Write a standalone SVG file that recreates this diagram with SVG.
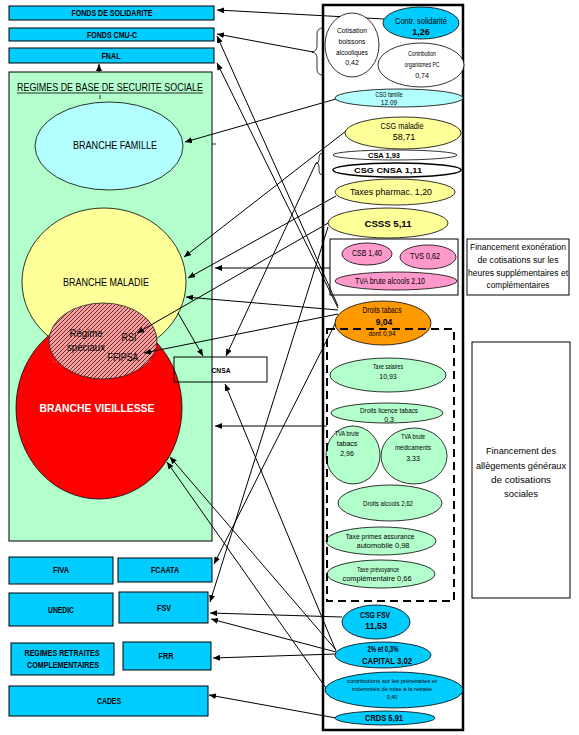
<svg xmlns="http://www.w3.org/2000/svg" width="579" height="735" viewBox="0 0 579 735">
<defs>
<style>
text{font-family:"Liberation Sans",Arial,sans-serif;fill:#000}
.c{text-anchor:middle}
.b{font-weight:bold}
.box{fill:#00ccff;stroke:#000;stroke-width:1}
.e{stroke:#000;stroke-width:0.8}
.blue{fill:#00ccff}
.yel{fill:#ffff99}
.grn{fill:#b3ffcc}
.pink{fill:#ff99cc}
.wht{fill:#fff}
.cyan{fill:#b3ffff}
.conn line{stroke:#000;stroke-width:1;marker-end:url(#ah)}
.bl{font-size:8.5px;font-weight:bold}
</style>
<marker id="ah" markerWidth="7" markerHeight="6" refX="7" refY="3" orient="auto" markerUnits="userSpaceOnUse"><path d="M0,0 L7,3 L0,6 z" fill="#000"/></marker>
<pattern id="hatch" patternUnits="userSpaceOnUse" width="4" height="4"><rect width="4" height="4" fill="#f2a2a2"/><path d="M-1,1 l2,-2 M0,4 l4,-4 M3,5 l2,-2" stroke="#701515" stroke-width="0.9"/></pattern>
</defs>
<rect width="579" height="735" fill="#fff"/>

<!-- top left funds -->
<g id="fonds-solidarite"><rect class="box" x="9" y="6" width="205" height="14"/><text class="c bl" x="112" y="16" textLength="81" lengthAdjust="spacingAndGlyphs">FONDS DE SOLIDARITE</text></g>
<g id="fonds-cmuc"><rect class="box" x="9" y="28" width="205" height="13"/><text class="c bl" x="112" y="38" textLength="50" lengthAdjust="spacingAndGlyphs">FONDS CMU-C</text></g>
<g id="fnal"><rect class="box" x="9" y="48" width="205" height="15"/><text class="c bl" x="111" y="59" textLength="19" lengthAdjust="spacingAndGlyphs">FNAL</text></g>

<!-- regimes de base -->
<g id="regimes-base">
<rect x="9" y="72" width="203" height="469" fill="#b3ffcc" stroke="#000" stroke-width="1"/>
<text class="c" x="110" y="91" font-size="10" textLength="186" lengthAdjust="spacingAndGlyphs">REGIMES DE BASE DE SECURITE SOCIALE</text>
<line x1="17" y1="93" x2="203" y2="93" stroke="#000" stroke-width="0.8"/>
<line x1="100" y1="95" x2="100" y2="99" stroke="#000" stroke-width="0.8"/>
<line x1="212" y1="144" x2="216" y2="144" stroke="#000" stroke-width="0.8"/>
</g>
<g id="branche-famille"><ellipse class="e cyan" cx="109" cy="146" rx="74" ry="44"/><text class="c" x="115" y="149" font-size="10.5" textLength="84" lengthAdjust="spacingAndGlyphs">BRANCHE FAMILLE</text></g>
<g id="branche-maladie"><ellipse class="e yel" cx="104" cy="282" rx="82" ry="74"/><text class="c" x="106" y="286" font-size="10.5" textLength="86" lengthAdjust="spacingAndGlyphs">BRANCHE MALADIE</text></g>
<g id="branche-vieillesse"><ellipse cx="99" cy="408" rx="83" ry="91" fill="#ff0000" stroke="#000" stroke-width="0.8"/><text class="c b" x="97" y="412" font-size="11" style="fill:#fff" textLength="115" lengthAdjust="spacingAndGlyphs">BRANCHE VIEILLESSE</text></g>
<g id="regimes-speciaux">
<ellipse cx="103" cy="341" rx="54" ry="38" fill="url(#hatch)" stroke="#222" stroke-width="0.8"/>
<g stroke="#e08080" stroke-width="0.8" stroke-dasharray="1.5,1.5" fill="none">
<line x1="56" y1="329" x2="152" y2="329"/><line x1="53" y1="362" x2="152" y2="362"/><line x1="106" y1="304" x2="106" y2="378"/>
</g>
<text class="c" x="86" y="337" font-size="10" fill="#111" textLength="33" lengthAdjust="spacingAndGlyphs">Régime</text>
<text class="c" x="86" y="351" font-size="10" textLength="38" lengthAdjust="spacingAndGlyphs">spéciaux</text>
<text class="c" x="129" y="341" font-size="10" textLength="15" lengthAdjust="spacingAndGlyphs">RSI</text>
<text class="c" x="123" y="361" font-size="10" textLength="31" lengthAdjust="spacingAndGlyphs">FFIPSA</text>
</g>
<g id="cnsa"><rect x="174" y="357" width="93" height="25" fill="none" stroke="#000" stroke-width="1"/><text class="c b" x="221" y="373" font-size="8" textLength="19" lengthAdjust="spacingAndGlyphs">CNSA</text></g>

<!-- bottom left funds -->
<g id="fiva"><rect class="box" x="9" y="557" width="104" height="27"/><text class="c bl" x="61" y="573" textLength="16" lengthAdjust="spacingAndGlyphs">FIVA</text></g>
<g id="fcaata"><rect class="box" x="118" y="558" width="94" height="24"/><text class="c bl" x="165" y="573" textLength="28" lengthAdjust="spacingAndGlyphs">FCAATA</text></g>
<g id="unedic"><rect class="box" x="9" y="593" width="104" height="33"/><text class="c bl" x="61" y="613" textLength="26" lengthAdjust="spacingAndGlyphs">UNEDIC</text></g>
<g id="fsv"><rect class="box" x="119" y="592" width="89" height="31"/><text class="c bl" x="164" y="611" textLength="14" lengthAdjust="spacingAndGlyphs">FSV</text></g>
<g id="regimes-complementaires"><rect class="box" x="11" y="643" width="103" height="32"/><text class="c bl" x="62" y="656" textLength="75" lengthAdjust="spacingAndGlyphs">REGIMES RETRAITES</text><text class="c bl" x="63" y="668" textLength="72" lengthAdjust="spacingAndGlyphs">COMPLEMENTAIRES</text></g>
<g id="frr"><rect class="box" x="123" y="642" width="88" height="28"/><text class="c bl" x="166" y="659" textLength="15" lengthAdjust="spacingAndGlyphs">FRR</text></g>
<g id="cades"><rect class="box" x="9" y="686" width="199" height="30"/><text class="c bl" x="109" y="704" textLength="24" lengthAdjust="spacingAndGlyphs">CADES</text></g>

<!-- connectors -->
<g id="connectors" class="conn">
<line x1="384" y1="19" x2="217" y2="10"/>
<line x1="313" y1="52" x2="217" y2="34"/>
<line x1="336" y1="99" x2="185" y2="142"/>
<line x1="346" y1="131" x2="184" y2="257"/>
<line x1="336" y1="196" x2="188" y2="278"/>
<line x1="330" y1="222" x2="137" y2="333"/>
<line x1="328" y1="227" x2="210" y2="602"/>
<line x1="330" y1="268" x2="215" y2="268"/>
<line x1="338" y1="310" x2="186" y2="297"/>
<line x1="338" y1="314" x2="144" y2="353"/>
<line x1="338" y1="306" x2="217" y2="36"/>
<line x1="338" y1="308" x2="217" y2="63"/>
<line x1="336" y1="322" x2="214" y2="564"/>
<line x1="316" y1="163" x2="226" y2="356"/>
<line x1="178" y1="313" x2="203" y2="356"/>
<line x1="327" y1="426" x2="215" y2="426"/>
<line x1="336" y1="651" x2="225" y2="384"/>
<line x1="336" y1="650" x2="170" y2="457"/>
<line x1="326" y1="688" x2="167" y2="462"/>
<line x1="342" y1="617" x2="210" y2="613"/>
<line x1="336" y1="652" x2="211" y2="619"/>
<line x1="336" y1="654" x2="213" y2="658"/>
<line x1="336" y1="718" x2="209" y2="695"/>
<line x1="99" y1="72" x2="99" y2="64"/>
</g>

<!-- right frame and braces -->
<g id="frame">
<rect x="323" y="5" width="140" height="725" fill="none" stroke="#000" stroke-width="2.5"/>
<path d="M323,28 Q317,28 317,34 L317,46 Q317,51 312,52 Q317,53 317,58 L317,69 Q317,75 323,75" fill="none" stroke="#000" stroke-width="0.8"/>
<path d="M323,153 Q319,153 319,157 L319,160 Q319,163 316,163 Q319,163 319,166 L319,171 Q319,175 323,175" fill="none" stroke="#000" stroke-width="0.8"/>
</g>

<g id="contr-solidarite"><ellipse class="e blue" cx="421" cy="23" rx="38" ry="16"/><text class="c" x="421" y="24" font-size="9" textLength="52" lengthAdjust="spacingAndGlyphs">Contr. solidarité</text><text class="c b" x="421" y="35" font-size="9">1,26</text></g>
<g id="cotisation-boissons"><ellipse class="e wht" cx="352" cy="45" rx="27" ry="32"/><text class="c" x="352" y="33" font-size="7" textLength="30" lengthAdjust="spacingAndGlyphs">Cotisation</text><text class="c" x="352" y="44" font-size="7" textLength="27" lengthAdjust="spacingAndGlyphs">boissons</text><text class="c" x="352" y="55" font-size="7" textLength="32" lengthAdjust="spacingAndGlyphs">alcooliques</text><text class="c" x="352" y="65" font-size="7">0,42</text></g>
<g id="contribution-pc"><ellipse class="e wht" cx="421" cy="65" rx="43" ry="22"/><text class="c" x="422" y="56" font-size="7" textLength="28" lengthAdjust="spacingAndGlyphs">Contribution</text><text class="c" x="422" y="67" font-size="7" textLength="35" lengthAdjust="spacingAndGlyphs">organismes PC</text><text class="c" x="422" y="78" font-size="7">0,74</text></g>
<g id="csg-famille"><ellipse class="e cyan" cx="399" cy="98" rx="64" ry="9"/><text class="c" x="389" y="97" font-size="6.5" textLength="27" lengthAdjust="spacingAndGlyphs">CSG famille</text><text class="c" x="389" y="105" font-size="6.5">12.09</text></g>
<g id="csg-maladie"><ellipse class="e yel" cx="403" cy="133" rx="58" ry="16"/><text class="c" x="402" y="129" font-size="9" textLength="43" lengthAdjust="spacingAndGlyphs">CSG maladie</text><text class="c" x="404" y="140" font-size="9">58,71</text></g>
<g id="csa"><ellipse class="e wht" cx="395" cy="155" rx="62" ry="5"/><text class="c b" x="384" y="158" font-size="8" textLength="32" lengthAdjust="spacingAndGlyphs">CSA 1,93</text></g>
<g id="csg-cnsa"><ellipse class="wht" cx="397" cy="170" rx="64" ry="7" stroke="#000" stroke-width="1.5"/><text class="c b" x="388" y="173" font-size="8" textLength="68" lengthAdjust="spacingAndGlyphs">CSG CNSA  1,11</text></g>
<g id="taxes-pharmac"><ellipse class="e yel" cx="395" cy="192" rx="60" ry="13"/><text class="c" x="391" y="195" font-size="9" textLength="82" lengthAdjust="spacingAndGlyphs">Taxes pharmac.  1,20</text></g>
<g id="csss"><ellipse class="e yel" cx="388" cy="223" rx="60" ry="15"/><text class="c b" x="388" y="227" font-size="9" textLength="47" lengthAdjust="spacingAndGlyphs">CSSS  5,11</text></g>

<g id="groupe-exoneration"><rect x="330" y="239" width="128" height="56" fill="none" stroke="#000" stroke-width="1"/></g>
<g id="csb"><ellipse class="e pink" cx="367" cy="254" rx="25" ry="11"/><text class="c" x="367" y="256" font-size="8.5" textLength="30" lengthAdjust="spacingAndGlyphs">CSB 1,40</text></g>
<g id="tvs"><ellipse class="e pink" cx="428" cy="257" rx="28" ry="12"/><text class="c" x="425" y="259" font-size="8.5" textLength="30" lengthAdjust="spacingAndGlyphs">TVS 0,62</text></g>
<g id="tva-alcools"><ellipse class="e pink" cx="396" cy="281" rx="61" ry="9"/><text class="c" x="390" y="284" font-size="8.5" textLength="70" lengthAdjust="spacingAndGlyphs">TVA brute alcools 2,10</text></g>
<g id="financement-exoneration"><rect x="467" y="239" width="102" height="56" fill="#fff" stroke="#000" stroke-width="1"/>
<text class="c" x="518" y="250" font-size="8.5" textLength="96" lengthAdjust="spacingAndGlyphs">Financement exonération</text>
<text class="c" x="518" y="263" font-size="8.5" textLength="81" lengthAdjust="spacingAndGlyphs">de cotisations sur les</text>
<text class="c" x="518" y="276" font-size="8.5" textLength="100" lengthAdjust="spacingAndGlyphs">heures supplémentaires et</text>
<text class="c" x="518" y="288" font-size="8.5" textLength="63" lengthAdjust="spacingAndGlyphs">complémentaires</text></g>

<g id="droits-tabacs"><ellipse cx="383" cy="323" rx="48" ry="22" fill="#ff9900" stroke="#000" stroke-width="0.8"/><text class="c" x="382" y="313" font-size="8.5" textLength="39" lengthAdjust="spacingAndGlyphs">Droits tabacs</text><text class="c b" x="384" y="325" font-size="8.5">9,04</text><text class="c" x="382" y="336" font-size="8" textLength="27" lengthAdjust="spacingAndGlyphs">dont 0,94</text></g>

<g id="taxe-salaires"><ellipse class="e grn" cx="388" cy="375" rx="58" ry="17"/><text class="c" x="388" y="369" font-size="7" textLength="30" lengthAdjust="spacingAndGlyphs">Taxe salaires</text><text class="c" x="388" y="379" font-size="7">10,93</text></g>
<g id="droits-licence"><ellipse class="e grn" cx="387" cy="413" rx="56" ry="10"/><text class="c" x="389" y="413" font-size="7" textLength="58" lengthAdjust="spacingAndGlyphs">Droits licence tabacs</text><text class="c" x="389" y="422" font-size="7">0,3</text></g>
<g id="tva-tabacs"><ellipse class="e grn" cx="353" cy="455" rx="27" ry="29"/><text class="c" x="347" y="436" font-size="7" textLength="24" lengthAdjust="spacingAndGlyphs">TVA brute</text><text class="c" x="347" y="446" font-size="7">tabacs</text><text class="c" x="347" y="456" font-size="7">2,96</text></g>
<g id="tva-medicaments"><ellipse class="e grn" cx="414" cy="456" rx="33" ry="28"/><text class="c" x="413" y="439" font-size="7" textLength="24" lengthAdjust="spacingAndGlyphs">TVA brute</text><text class="c" x="413" y="450" font-size="7" textLength="36" lengthAdjust="spacingAndGlyphs">médicaments</text><text class="c" x="413" y="461" font-size="7">3,33</text></g>
<g id="droits-alcools"><ellipse class="e grn" cx="390" cy="503" rx="52" ry="18"/><text class="c" x="388" y="506" font-size="7" textLength="50" lengthAdjust="spacingAndGlyphs">Droits alcools  2,62</text></g>
<g id="taxe-primes"><ellipse class="e grn" cx="381" cy="541" rx="55" ry="14"/><text class="c" x="380" y="539" font-size="7" textLength="69" lengthAdjust="spacingAndGlyphs">Taxe primes assurance</text><text class="c" x="383" y="548" font-size="7" textLength="53" lengthAdjust="spacingAndGlyphs">automobile   0,98</text></g>
<g id="taxe-prevoyance"><ellipse class="e grn" cx="381" cy="574" rx="54" ry="14"/><text class="c" x="378" y="572" font-size="7" textLength="42" lengthAdjust="spacingAndGlyphs">Taxe prévoyance</text><text class="c" x="377" y="581" font-size="7" textLength="69" lengthAdjust="spacingAndGlyphs">complémentaire   0,66</text></g>
<g id="allegements-groupe"><rect x="327" y="329" width="127" height="272" fill="none" stroke="#000" stroke-width="2" stroke-dasharray="8,5"/></g>
<g id="financement-allegements"><rect x="472" y="342" width="98" height="256" fill="#fff" stroke="#000" stroke-width="1"/>
<text class="c" x="521" y="454" font-size="9.5" textLength="70" lengthAdjust="spacingAndGlyphs">Financement des</text>
<text class="c" x="521" y="469" font-size="9.5" textLength="90" lengthAdjust="spacingAndGlyphs">allègements généraux</text>
<text class="c" x="521" y="483" font-size="9.5" textLength="60" lengthAdjust="spacingAndGlyphs">de cotisations</text>
<text class="c" x="521" y="497" font-size="9.5" textLength="34" lengthAdjust="spacingAndGlyphs">sociales</text></g>

<g id="csg-fsv"><ellipse class="e blue" cx="376" cy="622" rx="34" ry="17"/><text class="c b" x="375" y="618" font-size="9" textLength="30" lengthAdjust="spacingAndGlyphs">CSG FSV</text><text class="c b" x="376" y="629" font-size="9">11,53</text></g>
<g id="capital"><ellipse class="e blue" cx="383" cy="655" rx="48" ry="13"/><text class="c b" x="383" y="652" font-size="8.5" textLength="31" lengthAdjust="spacingAndGlyphs">2% et 0,3%</text><text class="c b" x="387" y="664" font-size="8.5" textLength="50" lengthAdjust="spacingAndGlyphs">CAPITAL    3,02</text></g>
<g id="preretraites"><ellipse class="e blue" cx="394" cy="690" rx="69" ry="18"/><text class="c" x="392" y="683" font-size="5.5" textLength="90" lengthAdjust="spacingAndGlyphs">contributions sur les préretraites et</text><text class="c" x="392" y="691" font-size="5.5" textLength="80" lengthAdjust="spacingAndGlyphs">indemnités de mise à la retraite</text><text class="c" x="392" y="699" font-size="5.5">0,40</text></g>
<g id="crds"><ellipse class="e blue" cx="385" cy="718" rx="50" ry="7"/><text class="c b" x="384" y="721" font-size="9" textLength="38" lengthAdjust="spacingAndGlyphs">CRDS  5,91</text></g>
</svg>
